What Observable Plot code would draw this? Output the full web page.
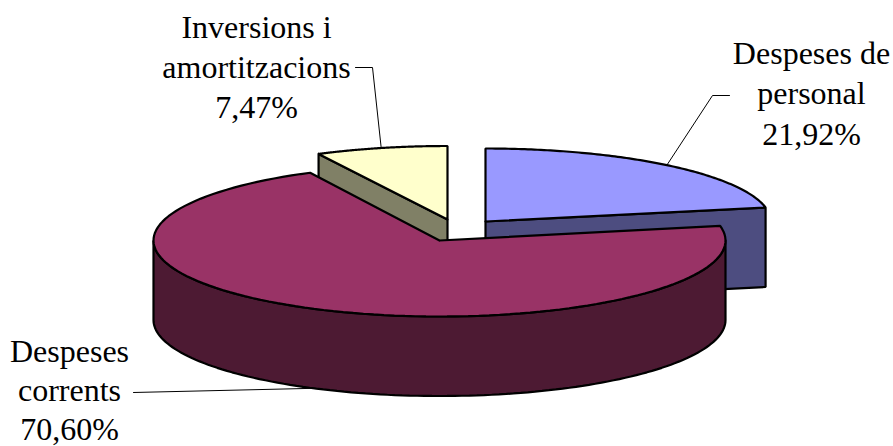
<!DOCTYPE html>
<html>
<head>
<meta charset="utf-8">
<style>html,body{margin:0;padding:0;background:#fff}svg{display:block}</style>
<script src="https://cdn.jsdelivr.net/npm/d3@7"></script>
<script src="https://cdn.jsdelivr.net/npm/@observablehq/plot@0.6"></script>
</head>
<body>
<script>
// Data
const categories = ["Despeses de personal", "Despeses corrents", "Inversions i amortitzacions"];
const shares = [21.92, 70.60, 7.47];
const valueLabels = ["21,92%", "70,60%", "7,47%"];
const labelLines = [["Despeses de", "personal"], ["Despeses", "corrents"], ["Inversions i", "amortitzacions"]];

// Styles
const topColors = ["#9999FF", "#993366", "#FFFFCC"];
const sideColors = ["#4D4D80", "#4D1A33", "#808066"];

// Layout of the exploded 3D pie (pixels)
const W = 893, H = 446, depth = 79.5;
const centers = [{x: 485, y: 221}, {x: 439, y: 240}, {x: 447, y: 219}];
const radii = [{x: 285.4, y: 73}, {x: 286, y: 76}, {x: 285, y: 73.5}];
const labelX = [811, 69, 256];
const labelBaseline = [63, 361, 37];
const lineSteps = [40.5, 39, 40];
const elbows = [
  [{x: 729, y: 95}, {x: 712, y: 95}],
  [{x: 133, y: 392}],
  [{x: 355, y: 67}, {x: 372, y: 67}]
];

const total = d3.sum(shares);
let acc = 0;
const slices = shares.map((v, i) => {
  const a0 = acc / total * 2 * Math.PI;
  acc += v;
  return {i, a0, a1: acc / total * 2 * Math.PI};
});

const pt = (i, a, dz = 0) => ({
  x: centers[i].x + radii[i].x * Math.sin(a),
  y: centers[i].y - radii[i].y * Math.cos(a) + dz
});
const arc = (i, a0, a1, dz = 0) =>
  d3.range(0, 121).map(k => pt(i, a0 + (a1 - a0) * k / 120, dz));
const apex = (i, dz = 0) => ({x: centers[i].x, y: centers[i].y + dz});

const poly = (pts, fill) => Plot.line([...pts, pts[0]], {
  x: "x", y: "y", fill, stroke: "#000", strokeWidth: 2.2, strokeLinejoin: "miter", curve: "linear"
});

const [blue, maroon, yellow] = slices;
const marks = [
  // Despeses de personal: cut face, then top
  poly([apex(0), pt(0, blue.a1), pt(0, blue.a1, depth), apex(0, depth)], sideColors[0]),
  poly([apex(0), ...arc(0, blue.a0, blue.a1)], topColors[0]),
  // Inversions: cut face, then top
  poly([pt(2, yellow.a0), apex(2), apex(2, depth), pt(2, yellow.a0, depth)], sideColors[2]),
  poly([apex(2), ...arc(2, yellow.a0, yellow.a1)], topColors[2]),
  // Despeses corrents: outer wall, then top
  poly([...arc(1, Math.PI / 2, 1.5 * Math.PI), ...arc(1, 1.5 * Math.PI, Math.PI / 2, depth)], sideColors[1]),
  poly([apex(1), ...arc(1, maroon.a0, maroon.a1)], topColors[1])
];

// Leader lines end on the rim at each slice's middle angle
slices.forEach(s => {
  const mid = (s.a0 + s.a1) / 2;
  const end = pt(s.i, mid, s.i === 1 ? depth : 0);
  marks.push(Plot.line([...elbows[s.i], end], {x: "x", y: "y", stroke: "#000", strokeWidth: 1}));
});

// Labels
const textRows = categories.flatMap((c, i) =>
  [...labelLines[i], valueLabels[i]].map((t, k) => ({
    t, x: labelX[i], y: labelBaseline[i] + k * lineSteps[i]
  }))
);
marks.push(Plot.text(textRows, {
  x: "x", y: "y", text: "t", textAnchor: "middle", lineAnchor: "bottom",
  fontFamily: "Liberation Serif", fontSize: 32, fill: "#000"
}));

document.body.appendChild(Plot.plot({
  width: W, height: H, margin: 0,
  x: {domain: [0, W], range: [0, W], axis: null},
  y: {domain: [0, H], range: [0, H], axis: null},
  style: {background: "#fff", overflow: "visible"},
  marks
}));
</script>
</body>
</html>
